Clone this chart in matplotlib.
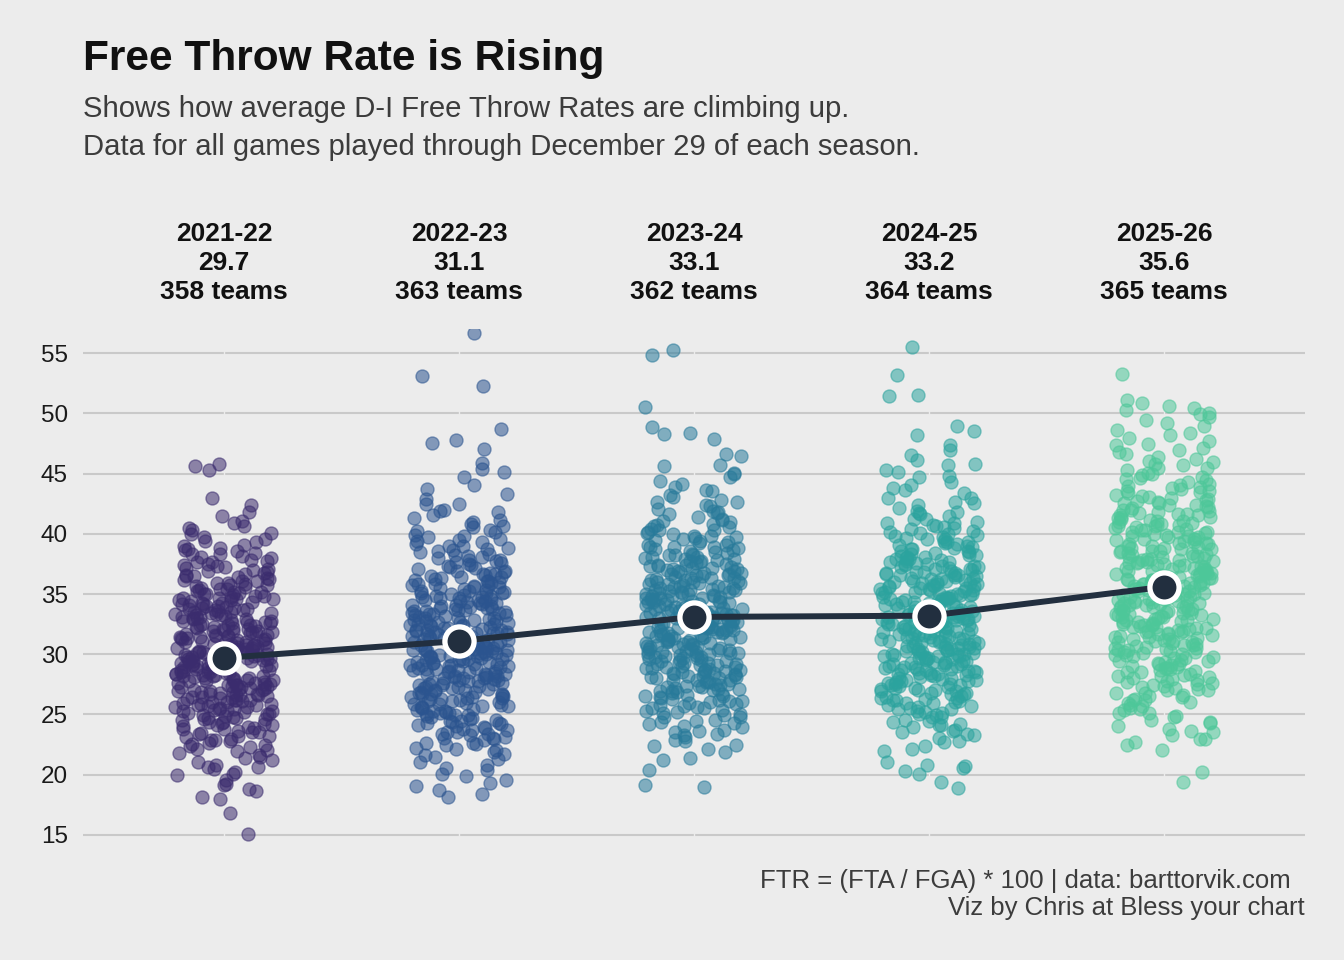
#!/usr/bin/env python

# Libraries

import numpy as np
import matplotlib
matplotlib.use("Agg")
import matplotlib.pyplot as plt
from matplotlib.transforms import blended_transform_factory

plt.rcParams['font.family'] = ['Liberation Sans', 'DejaVu Sans']

# Data

seasons = ["2021-22", "2022-23", "2023-24", "2024-25", "2025-26"]
season_means = [29.7, 31.1, 33.1, 33.2, 35.6]
team_counts = [358, 363, 362, 364, 365]

# number of teams in each 1-point FTR bin
# (first bin of each season starts at bin_starts[i])
bin_starts = [15, 18, 18, 18, 19]
ftr_bins_2122 = [1, 1, 1, 3, 4, 6, 7, 10, 13, 15, 19, 22, 24, 25, 26, 25, 24, 22, 21, 19,
                 16, 14, 11, 10, 6, 5, 3, 2, 0, 0, 3]
ftr_bins_2223 = [3, 4, 4, 6, 9, 13, 15, 17, 19, 21, 23, 24, 24, 24, 22, 21, 20, 18, 15, 12,
                 10, 9, 7, 5, 4, 2, 2, 3, 0, 3, 1, 0, 0, 0, 1, 1, 0, 0, 1]
ftr_bins_2324 = [1, 1, 1, 3, 5, 7, 9, 12, 15, 18, 21, 21, 22, 23, 24, 24, 23, 22, 20, 18,
                 15, 12, 10, 8, 6, 5, 4, 3, 2, 1, 3, 0, 1, 0, 0, 0, 1, 1]
ftr_bins_2425 = [1, 1, 5, 2, 4, 7, 9, 12, 15, 18, 20, 22, 23, 23, 23, 23, 22, 22, 20, 18,
                 15, 13, 10, 8, 5, 4, 4, 4, 3, 1, 3, 0, 0, 2, 0, 1, 0, 1]
ftr_bins_2526 = [1, 1, 0, 4, 5, 6, 8, 10, 12, 14, 15, 17, 18, 19, 20, 21, 21, 21, 20, 18,
                 17, 16, 15, 13, 11, 9, 7, 6, 5, 4, 4, 5, 1, 0, 1]
season_bins = [ftr_bins_2122, ftr_bins_2223, ftr_bins_2324, ftr_bins_2425, ftr_bins_2526]

# Colours

bg = "#ECECEC"
season_colors = ["#3B2C6E", "#2B548F", "#287A9A", "#2BA39E", "#4DC799"]
mean_color = "#222F3F"


def hash01(k):
    '''Cheap deterministic 0-1 hash, used only for the sideways jitter.'''
    v = np.sin(k * 12.9898 + 78.233) * 43758.5453
    return v - np.floor(v)


def spread_bin_points(start, counts, offset):
    '''Turns bin counts into strip-plot points: teams are spread evenly inside
    each 1-point bin and jittered sideways.'''
    xs, ys = [], []
    c = offset
    for b, n in enumerate(counts):
        for j in range(n):
            c += 1
            ys.append(start + b + (j + 0.5) / n + (hash01(c + 0.37) - 0.5) / n)
            xs.append(hash01(c) - 0.5)
    return np.array(xs), np.array(ys)


# Figure

fig = plt.figure(figsize=(13.44, 9.6), dpi=100, facecolor=bg)
ax = fig.add_axes([83 / 1344, 1 - 847 / 960, (1305 - 83) / 1344, (847 - 329) / 960])
ax.set_facecolor(bg)

for i, counts in enumerate(season_bins):
    jx, ys = spread_bin_points(bin_starts[i], counts, i * 400)
    ax.scatter(i + jx * 0.42, ys, s=88, color=season_colors[i], alpha=0.55,
               edgecolors=season_colors[i], linewidths=1.0, zorder=2)

pos = np.arange(len(seasons))
ax.plot(pos, season_means, color=mean_color, lw=4.3, zorder=3, solid_capstyle='round')
ax.plot(pos, season_means, 'o', ms=21, mfc=mean_color, mec='white', mew=3.8, zorder=4)

# axes styling
ax.set_xlim(-0.6, 4.6)
ax.set_ylim(14, 57)
ax.set_yticks(range(15, 56, 5))
ax.set_xticks([])
ax.yaxis.grid(True, color="#C9C9C9", linewidth=1.5)
ax.set_axisbelow(True)
for p in pos:
    ax.axvline(p, color=bg, lw=1.0, zorder=0.8)
for s in ax.spines.values():
    s.set_visible(False)
ax.tick_params(axis='y', length=0, pad=11, labelsize=17.5, labelcolor="#1A1A1A")

# season labels above each strip
trans = blended_transform_factory(ax.transData, fig.transFigure)
for i, season in enumerate(seasons):
    ax.text(i, 1 - 263 / 960, f"{season}\n{season_means[i]:.1f}\n{team_counts[i]} teams",
            transform=trans, ha='center', va='center', fontsize=19, fontweight='bold',
            linespacing=1.27, color="#111111")

# titles
fig.text(83 / 1344, 1 - 70 / 960, "Free Throw Rate is Rising", fontsize=30.5,
         fontweight='bold', color="#111111", va='baseline')
fig.text(83 / 1344, 1 - 117 / 960, "Shows how average D-I Free Throw Rates are climbing up.",
         fontsize=21.1, color="#3C3C3C", va='baseline')
fig.text(83 / 1344, 1 - 155 / 960, "Data for all games played through December 29 of each season.",
         fontsize=21.1, color="#3C3C3C", va='baseline')

# caption
fig.text(1291 / 1344, 1 - 888 / 960, "FTR = (FTA / FGA) * 100 | data: barttorvik.com",
         fontsize=18.5, color="#3C3C3C", ha='right', va='baseline')
fig.text(1305 / 1344, 1 - 915 / 960, "Viz by Chris at Bless your chart",
         fontsize=18.5, color="#3C3C3C", ha='right', va='baseline')

plt.savefig("out.png", dpi=100, facecolor=bg)
